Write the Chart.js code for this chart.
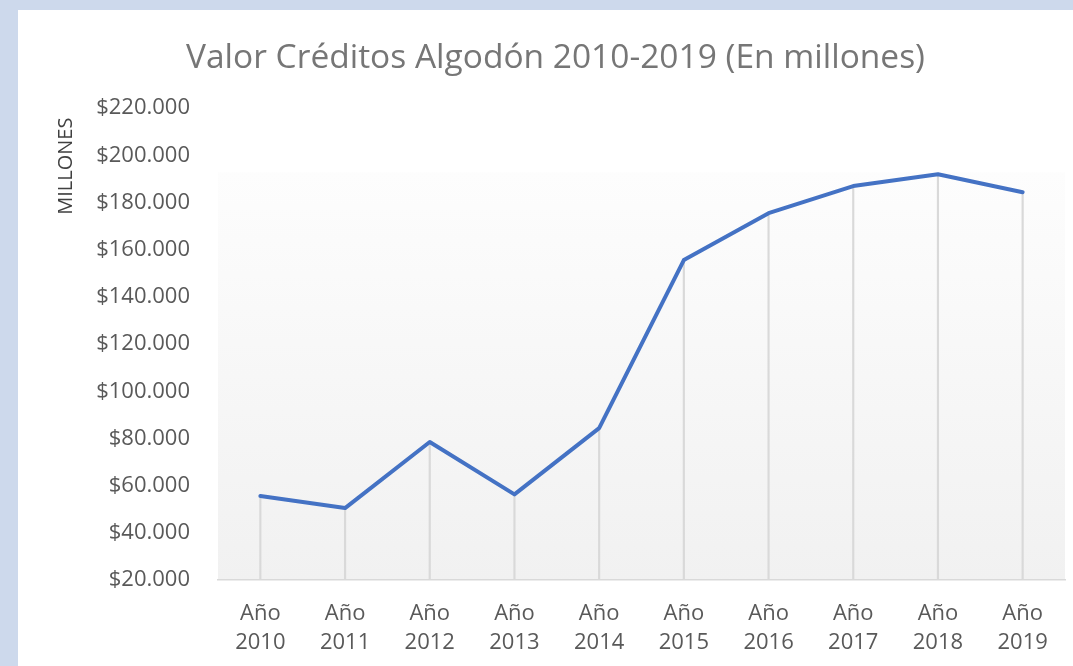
<!DOCTYPE html>
<html>
<head>
<meta charset="utf-8">
<script src="https://cdn.jsdelivr.net/npm/chart.js@4.4.1/dist/chart.umd.min.js"></script>
<style>
  html, body { margin: 0; padding: 0; width: 1073px; height: 666px; overflow: hidden; background: #cdd9ec; }
  #panel { position: absolute; left: 18px; top: 10px; width: 1055px; height: 656px; background: #ffffff; }
  canvas { display: block; }
</style>
</head>
<body>
<div id="panel"><canvas id="c" width="1055" height="656"></canvas></div>
<script>
const chartTitle = 'Valor Créditos Algodón 2010-2019 (En millones)';
const yAxisTitle = 'MILLONES';
const categories = [['Año','2010'],['Año','2011'],['Año','2012'],['Año','2013'],['Año','2014'],
                    ['Año','2015'],['Año','2016'],['Año','2017'],['Año','2018'],['Año','2019']];
const creditValues = [55600, 50500, 78500, 56300, 84400, 155600, 175500, 187000, 192000, 184400];
const yMin = 20000, yMax = 220000, yStep = 20000;

const FONT = "'Open Sans', 'DejaVu Sans', sans-serif";

const plotBg = {
  id: 'plotBg',
  beforeDraw(chart) {
    const {ctx, chartArea: a} = chart;
    const top = a.top + a.height * 0.136;
    const g = ctx.createLinearGradient(0, top, 0, a.bottom);
    g.addColorStop(0, '#fdfdfd');
    g.addColorStop(1, '#f1f1f1');
    ctx.save();
    ctx.fillStyle = g;
    ctx.fillRect(a.left, top, a.right - a.left, a.bottom - top);
    ctx.restore();
  }
};

const yTitle = {
  id: 'yTitle',
  afterDraw(chart) {
    const {ctx, chartArea: a} = chart;
    ctx.save();
    ctx.translate(48, a.top + 58);
    ctx.rotate(-Math.PI / 2);
    ctx.font = "20px " + FONT;
    ctx.fillStyle = '#404040';
    ctx.textAlign = 'center';
    ctx.textBaseline = 'middle';
    ctx.fillText(yAxisTitle, 0, 0);
    ctx.restore();
  }
};

new Chart(document.getElementById('c'), {
  data: {
    labels: categories,
    datasets: [
      {
        type: 'line',
        data: creditValues,
        borderColor: '#4472c4',
        borderWidth: 4,
        pointRadius: 0,
        tension: 0,
        order: 0,
        borderCapStyle: 'round',
        borderJoinStyle: 'round'
      },
      {
        type: 'bar',
        data: creditValues,
        backgroundColor: '#d9d9d9',
        barThickness: 1.5,
        order: 1
      }
    ]
  },
  options: {
    responsive: false,
    animation: false,
    layout: { padding: { left: 28, right: 8, top: 0, bottom: 0 } },
    plugins: {
      legend: { display: false },
      tooltip: { enabled: false },
      title: {
        display: true,
        text: chartTitle,
        color: '#767676',
        font: { family: FONT, size: 33.5, weight: 'normal', lineHeight: 1.2 },
        padding: { top: 28, bottom: 30 }
      }
    },
    scales: {
      x: {
        offset: true,
        grid: { display: false, drawTicks: false },
        border: { display: true, color: '#d9d9d9', width: 1.5 },
        ticks: {
          color: '#595959',
          font: { family: FONT, size: 22, lineHeight: 1.32 },
          padding: 19,
          maxRotation: 0,
          autoSkip: false
        },
        afterFit(s) { s.height = 86; }
      },
      y: {
        min: yMin,
        max: yMax,
        grid: { display: false, drawTicks: false },
        border: { display: false },
        ticks: {
          stepSize: yStep,
          color: '#595959',
          font: { family: FONT, size: 22 },
          padding: 28,
          callback: v => '$' + (v / 1000) + '.000'
        },
        afterFit(s) { s.width = 172; }
      }
    }
  },
  plugins: [plotBg, yTitle]
});
</script>
</body>
</html>
